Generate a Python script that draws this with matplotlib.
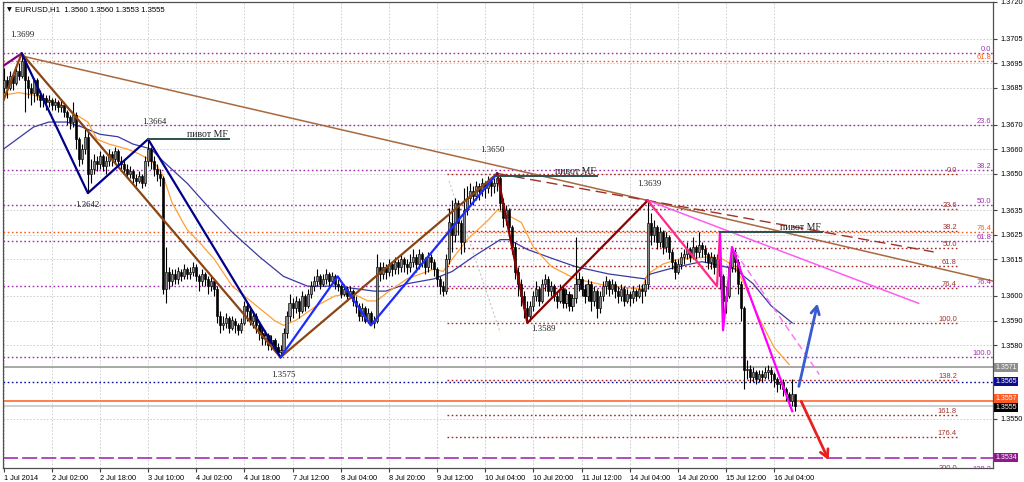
import matplotlib
matplotlib.use("Agg")
import matplotlib.pyplot as plt
import matplotlib.transforms as mtransforms
import numpy as np

plt.rcParams['font.family'] = ['Liberation Sans', 'DejaVu Sans']

# ---------------- data ----------------
title_text = "EURUSD,H1  1.3560 1.3560 1.3553 1.3555"
first_open = 1.3685
closes = [1.3688, 1.3685, 1.3690, 1.3687, 1.3692, 1.3690, 1.3696, 1.3688, 1.3685, 1.3683,
          1.3688, 1.3682, 1.3680, 1.3681, 1.3679, 1.3680, 1.3678, 1.3679, 1.3677, 1.3678,
          1.3675, 1.3673, 1.3671, 1.3674, 1.3664, 1.3656, 1.3660, 1.3665, 1.3650, 1.3652,
          1.3655, 1.3654, 1.3657, 1.3653, 1.3655, 1.3658, 1.3656, 1.3659, 1.3655, 1.3654,
          1.3652, 1.3650, 1.3651, 1.3648, 1.3647, 1.3649, 1.3646, 1.3655, 1.3660, 1.3655,
          1.3652, 1.3650, 1.3648, 1.3603, 1.3610, 1.3606, 1.3609, 1.3607, 1.3610, 1.3608,
          1.3611, 1.3609, 1.3610, 1.3612, 1.3608, 1.3606, 1.3609, 1.3607, 1.3604, 1.3606,
          1.3603, 1.3592, 1.3588, 1.3589, 1.3591, 1.3587, 1.3590, 1.3588, 1.3586, 1.3589,
          1.3596, 1.3594, 1.3590, 1.3592, 1.3588, 1.3585, 1.3583, 1.3584, 1.3580, 1.3582,
          1.3579, 1.3577, 1.3578, 1.3585, 1.3592, 1.3597, 1.3595, 1.3598, 1.3594, 1.3600,
          1.3596, 1.3601, 1.3604, 1.3606, 1.3608, 1.3605, 1.3607, 1.3609, 1.3606, 1.3608,
          1.3605, 1.3604, 1.3601, 1.3603, 1.3600, 1.3602, 1.3598, 1.3596, 1.3592, 1.3595,
          1.3590, 1.3593, 1.3589, 1.3590, 1.3612, 1.3609, 1.3612, 1.3610, 1.3613, 1.3611,
          1.3614, 1.3612, 1.3615, 1.3613, 1.3612, 1.3614, 1.3616, 1.3613, 1.3617, 1.3615,
          1.3612, 1.3616, 1.3614, 1.3611, 1.3607, 1.3604, 1.3602, 1.3615, 1.3630, 1.3625,
          1.3638, 1.3630, 1.3622, 1.3635, 1.3640, 1.3643, 1.3641, 1.3645, 1.3643, 1.3646,
          1.3644, 1.3647, 1.3645, 1.3646, 1.3648, 1.3638, 1.3632, 1.3635, 1.3628, 1.3620,
          1.3610, 1.3605, 1.3600, 1.3595, 1.3592, 1.3596, 1.3600, 1.3603, 1.3598, 1.3605,
          1.3607, 1.3602, 1.3604, 1.3600, 1.3598, 1.3603, 1.3597, 1.3601, 1.3596, 1.3599,
          1.3605, 1.3607, 1.3603, 1.3600, 1.3605, 1.3598, 1.3602, 1.3595, 1.3600, 1.3604,
          1.3606, 1.3603, 1.3605, 1.3602, 1.3600, 1.3603, 1.3598, 1.3601, 1.3599, 1.3602,
          1.3600, 1.3603, 1.3602, 1.3605, 1.3630, 1.3625, 1.3628, 1.3622, 1.3626, 1.3620,
          1.3624, 1.3618, 1.3614, 1.3610, 1.3613, 1.3616, 1.3617, 1.3619, 1.3616, 1.3620,
          1.3618, 1.3621, 1.3619, 1.3617, 1.3614, 1.3616, 1.3612, 1.3615, 1.3608, 1.3598,
          1.3600, 1.3612, 1.3618, 1.3614, 1.3605, 1.3595, 1.3570, 1.3570, 1.3567, 1.3569,
          1.3566, 1.3568, 1.3567, 1.3569, 1.3570, 1.3568, 1.3566, 1.3564, 1.3565, 1.3562,
          1.3560, 1.3557, 1.3560, 1.3555]
highs = [1.3693, 1.3690, 1.3692, 1.3691, 1.3694, 1.3695, 1.3699, 1.3697, 1.3690, 1.3687,
         1.3689, 1.3689, 1.3684, 1.3683, 1.3682, 1.3682, 1.3681, 1.3681, 1.3680, 1.3680,
         1.3679, 1.3676, 1.3674, 1.3679, 1.3675, 1.3665, 1.3662, 1.3668, 1.3667, 1.3656,
         1.3658, 1.3657, 1.3659, 1.3658, 1.3657, 1.3660, 1.3659, 1.3661, 1.3660, 1.3657,
         1.3656, 1.3654, 1.3653, 1.3652, 1.3650, 1.3651, 1.3650, 1.3657, 1.3664, 1.3661,
         1.3657, 1.3654, 1.3652, 1.3649, 1.3620, 1.3612, 1.3611, 1.3611, 1.3612, 1.3611,
         1.3613, 1.3612, 1.3612, 1.3614, 1.3613, 1.3609, 1.3611, 1.3610, 1.3608, 1.3608,
         1.3607, 1.3604, 1.3594, 1.3592, 1.3593, 1.3592, 1.3592, 1.3591, 1.3589, 1.3591,
         1.3598, 1.3597, 1.3595, 1.3594, 1.3593, 1.3589, 1.3587, 1.3586, 1.3585, 1.3584,
         1.3583, 1.3581, 1.3580, 1.3587, 1.3594, 1.3601, 1.3599, 1.3600, 1.3599, 1.3602,
         1.3601, 1.3603, 1.3606, 1.3608, 1.3611, 1.3609, 1.3609, 1.3611, 1.3610, 1.3610,
         1.3609, 1.3607, 1.3605, 1.3605, 1.3604, 1.3604, 1.3603, 1.3600, 1.3597, 1.3597,
         1.3596, 1.3595, 1.3594, 1.3592, 1.3617, 1.3614, 1.3614, 1.3613, 1.3615, 1.3614,
         1.3616, 1.3615, 1.3617, 1.3616, 1.3615, 1.3617, 1.3619, 1.3617, 1.3619, 1.3618,
         1.3616, 1.3618, 1.3617, 1.3615, 1.3612, 1.3608, 1.3606, 1.3617, 1.3636, 1.3639,
         1.3640, 1.3639, 1.3631, 1.3644, 1.3645, 1.3646, 1.3645, 1.3647, 1.3646, 1.3648,
         1.3647, 1.3649, 1.3648, 1.3648, 1.3650, 1.3649, 1.3640, 1.3637, 1.3636, 1.3629,
         1.3622, 1.3612, 1.3607, 1.3602, 1.3598, 1.3598, 1.3602, 1.3606, 1.3604, 1.3607,
         1.3609, 1.3608, 1.3606, 1.3605, 1.3602, 1.3605, 1.3604, 1.3603, 1.3602, 1.3601,
         1.3624, 1.3610, 1.3608, 1.3605, 1.3607, 1.3606, 1.3604, 1.3603, 1.3602, 1.3606,
         1.3608, 1.3607, 1.3607, 1.3606, 1.3604, 1.3605, 1.3604, 1.3603, 1.3602, 1.3604,
         1.3603, 1.3605, 1.3605, 1.3607, 1.3639, 1.3634, 1.3631, 1.3629, 1.3628, 1.3627,
         1.3626, 1.3625, 1.3619, 1.3615, 1.3615, 1.3618, 1.3619, 1.3622, 1.3620, 1.3624,
         1.3621, 1.3626, 1.3622, 1.3621, 1.3618, 1.3618, 1.3617, 1.3617, 1.3616, 1.3609,
         1.3604, 1.3614, 1.3620, 1.3619, 1.3615, 1.3606, 1.3596, 1.3574, 1.3572, 1.3571,
         1.3570, 1.3570, 1.3570, 1.3571, 1.3572, 1.3571, 1.3569, 1.3567, 1.3567, 1.3566,
         1.3563, 1.3561, 1.3566, 1.3560]
lows = [1.3683, 1.3681, 1.3684, 1.3684, 1.3686, 1.3688, 1.3689, 1.3675, 1.3681, 1.3678,
        1.3679, 1.3680, 1.3677, 1.3677, 1.3676, 1.3677, 1.3676, 1.3676, 1.3675, 1.3675,
        1.3673, 1.3670, 1.3668, 1.3669, 1.3660, 1.3653, 1.3654, 1.3658, 1.3642, 1.3646,
        1.3650, 1.3651, 1.3652, 1.3651, 1.3650, 1.3653, 1.3653, 1.3654, 1.3653, 1.3651,
        1.3650, 1.3648, 1.3648, 1.3646, 1.3645, 1.3646, 1.3644, 1.3645, 1.3653, 1.3652,
        1.3649, 1.3647, 1.3645, 1.3601, 1.3597, 1.3603, 1.3604, 1.3605, 1.3605, 1.3606,
        1.3607, 1.3607, 1.3607, 1.3608, 1.3606, 1.3602, 1.3604, 1.3604, 1.3601, 1.3602,
        1.3600, 1.3589, 1.3585, 1.3586, 1.3587, 1.3585, 1.3586, 1.3585, 1.3584, 1.3585,
        1.3588, 1.3590, 1.3588, 1.3587, 1.3585, 1.3582, 1.3580, 1.3580, 1.3578, 1.3578,
        1.3577, 1.3576, 1.3575, 1.3577, 1.3583, 1.3590, 1.3591, 1.3593, 1.3591, 1.3593,
        1.3594, 1.3595, 1.3599, 1.3602, 1.3604, 1.3603, 1.3604, 1.3605, 1.3604, 1.3605,
        1.3603, 1.3602, 1.3599, 1.3600, 1.3598, 1.3599, 1.3596, 1.3593, 1.3590, 1.3590,
        1.3589, 1.3589, 1.3588, 1.3587, 1.3589, 1.3606, 1.3607, 1.3607, 1.3608, 1.3608,
        1.3609, 1.3609, 1.3610, 1.3610, 1.3609, 1.3610, 1.3612, 1.3610, 1.3611, 1.3612,
        1.3609, 1.3610, 1.3611, 1.3608, 1.3604, 1.3601, 1.3600, 1.3601, 1.3613, 1.3618,
        1.3622, 1.3625, 1.3617, 1.3618, 1.3633, 1.3637, 1.3637, 1.3639, 1.3639, 1.3641,
        1.3640, 1.3642, 1.3641, 1.3642, 1.3643, 1.3635, 1.3628, 1.3629, 1.3625, 1.3617,
        1.3607, 1.3600, 1.3596, 1.3591, 1.3589, 1.3590, 1.3594, 1.3598, 1.3596, 1.3597,
        1.3602, 1.3600, 1.3600, 1.3598, 1.3595, 1.3597, 1.3595, 1.3595, 1.3594, 1.3594,
        1.3597, 1.3602, 1.3600, 1.3597, 1.3598, 1.3594, 1.3596, 1.3591, 1.3593, 1.3598,
        1.3601, 1.3600, 1.3601, 1.3599, 1.3597, 1.3598, 1.3596, 1.3597, 1.3596, 1.3597,
        1.3598, 1.3599, 1.3597, 1.3600, 1.3603, 1.3621, 1.3622, 1.3619, 1.3620, 1.3617,
        1.3618, 1.3615, 1.3611, 1.3607, 1.3609, 1.3611, 1.3613, 1.3615, 1.3614, 1.3615,
        1.3615, 1.3616, 1.3616, 1.3614, 1.3611, 1.3611, 1.3609, 1.3610, 1.3603, 1.3590,
        1.3593, 1.3599, 1.3610, 1.3610, 1.3601, 1.3590, 1.3562, 1.3566, 1.3565, 1.3565,
        1.3564, 1.3565, 1.3565, 1.3566, 1.3566, 1.3565, 1.3563, 1.3561, 1.3562, 1.3559,
        1.3557, 1.3555, 1.3555, 1.3553]

time_labels = ["1 Jul 2014", "2 Jul 02:00", "2 Jul 18:00", "3 Jul 10:00", "4 Jul 02:00",
               "4 Jul 18:00", "7 Jul 12:00", "8 Jul 04:00", "8 Jul 20:00", "9 Jul 12:00",
               "10 Jul 04:00", "10 Jul 20:00", "11 Jul 12:00", "14 Jul 04:00",
               "14 Jul 20:00", "15 Jul 12:00", "16 Jul 04:00"]
bars_per_label = 16
price_ticks = [1.3720, 1.3705, 1.3695, 1.3685, 1.3670, 1.3660, 1.3650, 1.3635,
               1.3625, 1.3615, 1.3600, 1.3590, 1.3580, 1.3550]

# moving averages
fast_ma_bars = [0, 5, 10, 15, 21, 24, 28, 31, 35, 41, 45, 48, 51, 53, 56, 61, 65, 70, 76, 83,
                90, 93, 97, 104, 110, 116, 121, 124, 127, 134, 143, 146, 149, 154, 161, 164,
                166, 172, 176, 182, 190, 201, 212, 214, 219, 224, 235, 239, 243, 246, 251,
                256, 261]
fast_ma = [1.3682, 1.3683, 1.3682, 1.3680, 1.3677, 1.3674, 1.3671, 1.3664, 1.3662, 1.3660,
           1.3658, 1.3656, 1.3653, 1.3649, 1.3638, 1.3627, 1.3622, 1.3615, 1.3604, 1.3597,
           1.3590, 1.3588, 1.3590, 1.3596, 1.3600, 1.3601, 1.3598, 1.3598, 1.3601, 1.3607,
           1.3611, 1.3610, 1.3615, 1.3623, 1.3631, 1.3635, 1.3634, 1.3630, 1.3620, 1.3612,
           1.3607, 1.3604, 1.3603, 1.3609, 1.3613, 1.3615, 1.3616, 1.3615, 1.3612, 1.3605,
           1.3591, 1.3579, 1.3572]
slow_ma_bars = [0, 10, 15, 21, 26, 32, 38, 43, 49, 53, 61, 69, 76, 85, 93, 101, 110, 117, 123,
                127, 134, 143, 149, 156, 165, 168, 174, 183, 190, 201, 213, 215, 221, 228,
                232, 236, 243, 249, 255, 262]
slow_ma = [1.3660, 1.3669, 1.3671, 1.3671, 1.3669, 1.3666, 1.3665, 1.3662, 1.3660, 1.3655,
           1.3646, 1.3635, 1.3626, 1.3616, 1.3608, 1.3604, 1.3604, 1.3603, 1.3602, 1.3602,
           1.3605, 1.3607, 1.3610, 1.3616, 1.3623, 1.3623, 1.3619, 1.3615, 1.3612, 1.3609,
           1.3607, 1.3609, 1.3611, 1.3613, 1.3614, 1.3613, 1.3611, 1.3605, 1.3596, 1.3589]

# zigzag / trend objects
zz_purple_bars, zz_purple = [0, 6], [1.3694, 1.3699]
zz_brown_bars, zz_brown = [0, 6, 92, 164], [1.3680, 1.3699, 1.3575, 1.3650]
zz_navy_bars, zz_navy = [6, 28, 48, 92], [1.3699, 1.3642, 1.3664, 1.3575]
zz_blue_bars, zz_blue = [92, 111, 122, 164], [1.3575, 1.3608, 1.3588, 1.3650]
zz_maroon_bars, zz_maroon = [164, 174, 214], [1.3650, 1.3589, 1.3639]
zz_pink_bars, zz_pink = [214, 237, 238], [1.3639, 1.3604, 1.3626]
zz_magenta_bars, zz_magenta = [238, 239, 242, 262], [1.3626, 1.3586, 1.3620, 1.3553]
trend_long_bars, trend_long = [6, 214, 329], [1.3698, 1.3639, 1.3606]
trend_violet_bars, trend_violet = [214, 304], [1.3639, 1.3597]
trend_dashed_bars, trend_dashed = [164, 309], [1.3650, 1.3618]
trend_vdash_bars, trend_vdash = [243, 271], [1.3618, 1.3568]
trend_grey_bars, trend_grey = [148, 165], [1.3647, 1.3585]

pivot_bars = [(48, 75), (164, 197), (238, 272)]
pivot_prices = [1.3664, 1.3649, 1.3626]
pivot_text = "пивот MF"

swing_bars = [6, 48, 28, 92, 164, 174, 214]
swing_prices = [1.3699, 1.3664, 1.3642, 1.3575, 1.3650, 1.3589, 1.3639]
swing_offsets = [(1, 18), (6, 17), (-1, -12), (3, -18), (-5, 23), (16, -6), (2, 16)]

fib_purple_0, fib_purple_100 = 1.3699, 1.3575
fib_purple_levels = [0.0, 23.6, 38.2, 50.0, 61.8, 76.4, 100.0, 138.2]
fib_red_0, fib_red_100 = 1.3650, 1.3589
fib_red_levels = [0.0, 23.6, 38.2, 50.0, 61.8, 76.4, 100.0, 138.2, 161.8, 176.4, 200.0]
fib_red_span = (147.3, 316.7)
orange_levels = [61.8, 76.4]
orange_prices = [1.3696, 1.3626]

hline_prices = [1.3571, 1.3565, 1.3557, 1.3555, 1.3534]
box_colors = ["#8c8c8c", "#0c0c8c", "#ff5a24", "#000000", "#8b1a8b"]
box_nudge_px = [0, 0, 2.5, -1.5, 0]

arrow_up = ((264.0, 1.3562), (270.6, 1.3598))
arrow_down = ((264.6, 1.3558), (274.5, 1.3532))

# ---------------- figure ----------------
W, H = 1024, 482
fig = plt.figure(figsize=(W / 100, H / 100), dpi=100)
ax = fig.add_axes([3 / W, (H - 468) / H, 990 / W, 466 / H])
bar_px = 3.01
x0 = -0.2
ax.set_xlim(x0, x0 + 990 / bar_px)
ax.set_ylim(1.3720 - 466 / 24500, 1.3720)

# grid
tick_bars = [i * bars_per_label for i in range(len(time_labels))]
for tb in tick_bars:
    ax.axvline(tb, color="#c8c8c8", lw=0.6, ls=(0, (2, 2)), zorder=0)
for pt in price_ticks:
    ax.axhline(pt, color="#c8c8c8", lw=0.6, ls=(0, (2, 2)), zorder=0)

dot = (0, (1.2, 1.8))
yblend = mtransforms.blended_transform_factory(ax.transAxes, ax.transData)
fs = 5.4

# purple fib (full width)
for lv in fib_purple_levels:
    p = fib_purple_0 - lv / 100 * (fib_purple_0 - fib_purple_100)
    ax.axhline(p, color="#a030b0", lw=1.0, ls=dot, zorder=1)
    ax.text(0.998, p, f"{lv:.1f}", transform=yblend, ha="right", va="bottom",
            fontsize=fs, color="#a030b0", zorder=6, clip_on=True)
# orange lines
for lv, p in zip(orange_levels, orange_prices):
    ax.axhline(p, color="#ff5a1f", lw=1.0, ls=dot, zorder=1)
    ax.text(0.998, p, f"{lv:.1f}", transform=yblend, ha="right", va="bottom",
            fontsize=fs, color="#ff5a1f", zorder=6, clip_on=True)
# red fib (partial width)
for lv in fib_red_levels:
    p = fib_red_0 - lv / 100 * (fib_red_0 - fib_red_100)
    ax.plot(fib_red_span, [p, p], color="#a52a2a", lw=1.0, ls=dot, zorder=1)
    ax.text(fib_red_span[1], p, f"{lv:.1f}", ha="right", va="bottom",
            fontsize=fs, color="#a0302a", zorder=6, clip_on=True)

# horizontal lines
ax.axhline(hline_prices[0], color="#a0a0a0", lw=1.3, zorder=1)
ax.axhline(hline_prices[1], color="#1010a0", lw=1.0, ls=dot, zorder=1)
ax.axhline(hline_prices[2], color="#ff6a33", lw=1.2, zorder=1)
ax.axhline(hline_prices[3], color="#c8c8c8", lw=1.2, zorder=1)
ax.axhline(hline_prices[4], color="#a030b0", lw=1.2, ls=(0, (9, 2.5)), zorder=1)

# moving averages
ax.plot(slow_ma_bars, slow_ma, color="#3a3aa0", lw=0.9, zorder=2)
ax.plot(fast_ma_bars, fast_ma, color="#ffa035", lw=0.9, zorder=2)

# candles
c = np.array(closes)
o = np.array([first_open] + closes[:-1])
hi = np.maximum(np.array(highs), np.maximum(o, c))
lo = np.minimum(np.array(lows), np.minimum(o, c))
idx = np.arange(len(c))
ax.vlines(idx, lo, hi, color="black", lw=0.8, zorder=3)
up = c >= o
bottoms = np.minimum(o, c)
heights = np.maximum(np.abs(c - o), 0.00004)
ax.bar(idx[up], heights[up], bottom=bottoms[up], width=0.7, color="#8a8a8a",
       edgecolor="black", linewidth=0.45, zorder=3)
ax.bar(idx[~up], heights[~up], bottom=bottoms[~up], width=0.7, color="black",
       edgecolor="black", linewidth=0.45, zorder=3)

# trend lines
ax.plot(trend_long_bars, trend_long, color="#a8693f", lw=1.1, zorder=4)
ax.plot(trend_dashed_bars, trend_dashed, color="#a0302a", lw=1.0, ls=(0, (8, 4)), zorder=4)
ax.plot(trend_violet_bars, trend_violet, color="#ff5cf0", lw=1.1, zorder=4)
ax.plot(trend_vdash_bars, trend_vdash, color="#ff70f0", lw=1.0, ls=(0, (5, 3)), zorder=4)
ax.plot(trend_grey_bars, trend_grey, color="#c8c8c8", lw=0.8, ls=(0, (2, 2)), zorder=2)

# zigzags
zw = 1.6
ax.plot(zz_purple_bars, zz_purple, color="#800080", lw=zw, zorder=4)
ax.plot(zz_brown_bars, zz_brown, color="#8b4513", lw=zw, zorder=4)
ax.plot(zz_navy_bars, zz_navy, color="#00008b", lw=zw, zorder=4)
ax.plot(zz_blue_bars, zz_blue, color="#1e2bff", lw=zw, zorder=4)
ax.plot(zz_maroon_bars, zz_maroon, color="#8b0000", lw=zw, zorder=4)
ax.plot(zz_pink_bars, zz_pink, color="#ff2a8a", lw=zw, zorder=4)
ax.plot(zz_magenta_bars, zz_magenta, color="#ff00ff", lw=zw, zorder=4)

# pivot MF lines
for (b0, b1), p in zip(pivot_bars, pivot_prices):
    ax.plot([b0, b1], [p, p], color="#2f4f4f", lw=1.4, zorder=4)
    ax.annotate(pivot_text, (b1, p), xytext=(-1, 0), textcoords="offset pixels",
                ha="right", va="bottom", fontsize=7, family="Liberation Serif",
                color="#202020", zorder=6)

# swing labels
for b, p, (dx, dy) in zip(swing_bars, swing_prices, swing_offsets):
    ax.annotate(f"{p:.4f}", (b, p), xytext=(dx, dy), textcoords="offset pixels",
                ha="center", va="center", fontsize=6.3, family="Liberation Serif",
                color="#202020", zorder=6)

# arrows
ax.annotate("", xy=arrow_up[1], xytext=arrow_up[0],
            arrowprops=dict(arrowstyle="->,head_length=0.55,head_width=0.3",
                            color="#3a5ad0", lw=2.0), zorder=6)
ax.annotate("", xy=arrow_down[1], xytext=arrow_down[0],
            arrowprops=dict(arrowstyle="->,head_length=0.55,head_width=0.3",
                            color="#e82020", lw=2.0), zorder=6, annotation_clip=False)

# title
ax.text(0.004, 0.984, "▼", transform=ax.transAxes, fontsize=4.5, va="center", ha="left",
        family="DejaVu Sans")
ax.text(0.012, 0.984, title_text, transform=ax.transAxes, fontsize=5.6, va="center",
        ha="left")

# axes
ax.set_xticks(tick_bars)
ax.set_xticklabels(time_labels, fontsize=5.3)
for lab in ax.get_xticklabels():
    lab.set_horizontalalignment("left")
ax.tick_params(axis="x", length=3, pad=2, color="#404040")
ax.yaxis.tick_right()
ax.set_yticks(price_ticks)
ax.set_yticklabels([f"{p:.4f}" for p in price_ticks], fontsize=5.3)
ax.tick_params(axis="y", length=3, pad=2, color="#404040")
for s in ax.spines.values():
    s.set_color("#505050")
    s.set_linewidth(0.9)

# price boxes on right axis
for p, col, nud in zip(hline_prices, box_colors, box_nudge_px):
    tr = yblend + mtransforms.ScaledTranslation(0, nud / 100, fig.dpi_scale_trans)
    ax.text(1.0025, p, f"{p:.4f}", transform=tr, ha="left", va="center",
            fontsize=5.0, color="white", clip_on=False, zorder=10,
            bbox=dict(boxstyle="square,pad=0.15", fc=col, ec="none"))

fig.savefig("out.png", dpi=100)
